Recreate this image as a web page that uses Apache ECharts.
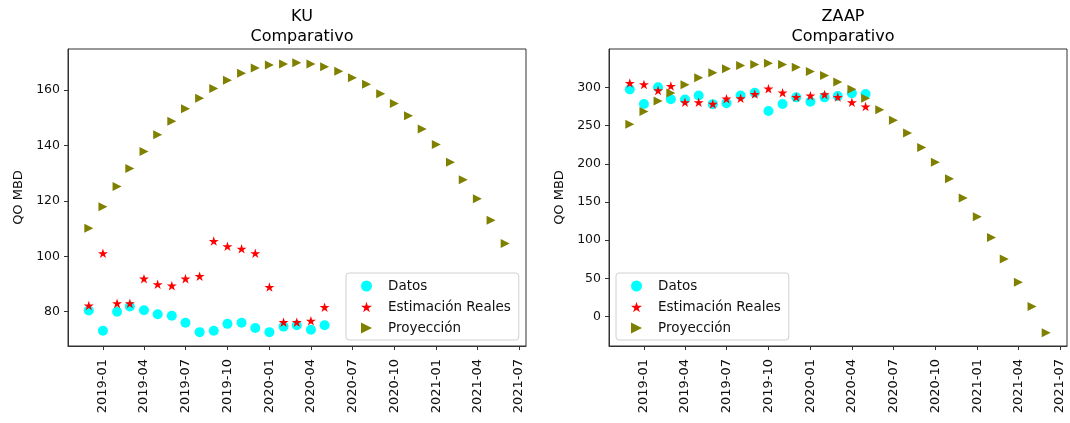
<!DOCTYPE html>
<html>
<head>
<meta charset="utf-8">
<script src="https://cdn.jsdelivr.net/npm/echarts@6/dist/echarts.min.js"></script>
<style>
html,body{margin:0;padding:0;background:#fff;}
#chart{width:1070px;height:423px;}
</style>
</head>
<body>
<div id="chart"></div>
<script>
// ---- data ----
const obsMonths = ['2018-12','2019-01','2019-02','2019-03','2019-04','2019-05','2019-06','2019-07','2019-08','2019-09','2019-10','2019-11','2019-12','2020-01','2020-02','2020-03','2020-04','2020-05'];
const projMonths = ['2018-12','2019-01','2019-02','2019-03','2019-04','2019-05','2019-06','2019-07','2019-08','2019-09','2019-10','2019-11','2019-12','2020-01','2020-02','2020-03','2020-04','2020-05','2020-06','2020-07','2020-08','2020-09','2020-10','2020-11','2020-12','2021-01','2021-02','2021-03','2021-04','2021-05','2021-06'];
const tickMonths = ['2019-01','2019-04','2019-07','2019-10','2020-01','2020-04','2020-07','2020-10','2021-01','2021-04','2021-07'];

const kuDatos = [80.4,73.1,80.0,81.9,80.5,79.1,78.5,76.0,72.6,73.1,75.6,76.0,74.1,72.6,74.6,75.1,73.5,75.1];
const kuEstim = [82.2,101.1,83.0,83.0,91.9,89.9,89.4,91.9,92.8,105.5,103.6,102.7,101.1,88.9,76.2,76.2,76.7,81.6];
const kuProy = [110.1,117.9,125.2,131.7,137.9,143.9,148.8,153.3,157.1,160.6,163.6,166.1,168.0,169.1,169.5,169.9,169.5,168.5,166.9,164.5,162.2,158.7,155.2,150.8,146.0,140.4,134.0,127.7,120.8,113.0,104.6];
const kuYTicks = [80,100,120,140,160];

const zaapDatos = [297.7,278.5,300.3,284.8,284.5,289.6,278.3,279.6,289.6,293.3,269.4,278.5,287.2,281.6,287.2,288.9,292.6,291.6];
const zaapEstim = [305.9,304.2,296.3,302.0,280.7,280.7,278.5,285.5,285.9,291.5,298.6,293.3,287.6,289.4,291.1,287.6,280.7,275.1];
const zaapProy = [252.0,268.5,282.4,292.8,303.8,312.9,319.4,324.7,329.0,330.3,332.0,330.3,326.8,321.1,315.9,307.2,297.7,285.9,271.1,257.2,240.6,221.5,202.0,180.5,155.4,130.5,103.5,75.3,44.8,13.1,-21.3];
const zaapYTicks = [0,50,100,150,200,250,300];

// ---- helpers ----
function ts(m){ const p = m.split('-'); return Date.UTC(+p[0], +p[1]-1, 1); }
function pairs(months, vals){ return months.map((m,i)=>[ts(m), vals[i]]); }
function fmtDate(v){ const d = new Date(v); const mm = d.getUTCMonth()+1; return d.getUTCFullYear() + '-' + (mm<10?'0':'') + mm; }

const STAR = 'path://M50,0 L61.2,34.5 L97.6,34.5 L68.2,55.9 L79.4,90.5 L50,69.1 L20.6,90.5 L31.8,55.9 L2.4,34.5 L38.8,34.5 Z';
const TRI = 'path://M0,0 L10,5 L0,10 Z';
const FONT = 'DejaVu Sans';
const xMin = Date.UTC(2018,9,16,10);
const xMax = Date.UTC(2021,6,16,14);
const tickVals = tickMonths.map(ts);

const grids = [
  {left:68, top:49, width:458, height:297},
  {left:609, top:49, width:458, height:297}
];

function xAxis(gi){
  return {
    type:'value', gridIndex:gi, min:xMin, max:xMax, scale:true,
    axisLine:{show:true, onZero:false, lineStyle:{color:'#333', width:1}},
    axisTick:{show:true, length:4, lineStyle:{color:'#333'}, customValues:tickVals},
    axisLabel:{rotate:90, margin:13, fontFamily:FONT, fontSize:13, color:'#111', customValues:tickVals, formatter:fmtDate, hideOverlap:false},
    splitLine:{show:false}
  };
}
function yAxis(gi, min, max, ticks, gap){
  return {
    type:'value', gridIndex:gi, min:min, max:max,
    name:'QO MBD', nameLocation:'middle', nameRotate:90, nameGap:gap,
    nameTextStyle:{fontFamily:FONT, fontSize:13, color:'#111'},
    axisLine:{show:true, onZero:false, lineStyle:{color:'#333', width:1}},
    axisTick:{show:true, length:4, lineStyle:{color:'#333'}, customValues:ticks},
    axisLabel:{margin:8, fontFamily:FONT, fontSize:12.5, color:'#111', customValues:ticks},
    splitLine:{show:false}
  };
}
function series(gi){
  const d = gi===0 ? [kuDatos,kuEstim,kuProy] : [zaapDatos,zaapEstim,zaapProy];
  return [
    {name:'Datos', type:'scatter', xAxisIndex:gi, yAxisIndex:gi, symbol:'circle', symbolSize:10, itemStyle:{color:'#00ffff', opacity:1}, z:2, data:pairs(obsMonths,d[0])},
    {name:'Estimación Reales', type:'scatter', xAxisIndex:gi, yAxisIndex:gi, symbol:STAR, symbolKeepAspect:true, symbolSize:10, itemStyle:{color:'#ff0000', opacity:1}, z:3, data:pairs(obsMonths,d[1])},
    {name:'Proyección', type:'scatter', xAxisIndex:gi, yAxisIndex:gi, symbol:TRI, symbolKeepAspect:true, symbolSize:9, itemStyle:{color:'#808000', opacity:1}, z:4, data:pairs(projMonths,d[2])}
  ];
}
function legend(left, top){
  return {
    orient:'vertical', left:left, top:top, width:174,
    padding:[6,8,5,15], itemGap:7, itemWidth:11, itemHeight:11,
    backgroundColor:'rgba(255,255,255,0.85)', borderColor:'#d0d0d0', borderWidth:1, borderRadius:3,
    selectedMode:false,
    textStyle:{fontFamily:FONT, fontSize:13.5, color:'#111', padding:[0,0,0,11], lineHeight:14},
    data:[
      {name:'Datos', icon:'circle', itemStyle:{color:'#00ffff'}},
      {name:'Estimación Reales', icon:STAR, itemStyle:{color:'#ff0000'}},
      {name:'Proyección', icon:TRI, itemStyle:{color:'#808000'}}
    ]
  };
}

const chart = echarts.init(document.getElementById('chart'), null, {renderer:'canvas'});
chart.setOption({
  animation:false,
  backgroundColor:'#fff',
  title:[
    {text:'KU\nComparativo', left:297, top:2, textAlign:'center', textStyle:{fontFamily:FONT, fontSize:16, fontWeight:'normal', color:'#000', lineHeight:20}},
    {text:'ZAAP\nComparativo', left:838, top:2, textAlign:'center', textStyle:{fontFamily:FONT, fontSize:16, fontWeight:'normal', color:'#000', lineHeight:20}}
  ],
  grid: grids.map(g=>Object.assign({show:true, borderColor:'#333', borderWidth:1, containLabel:false}, g)),
  xAxis:[xAxis(0), xAxis(1)],
  yAxis:[yAxis(0, 67.6, 174.9, kuYTicks, 43), yAxis(1, -38.8, 350.6, zaapYTicks, 43)],
  legend:[legend(346,273), legend(616,273)],
  series: series(0).concat(series(1))
});
</script>
</body>
</html>
